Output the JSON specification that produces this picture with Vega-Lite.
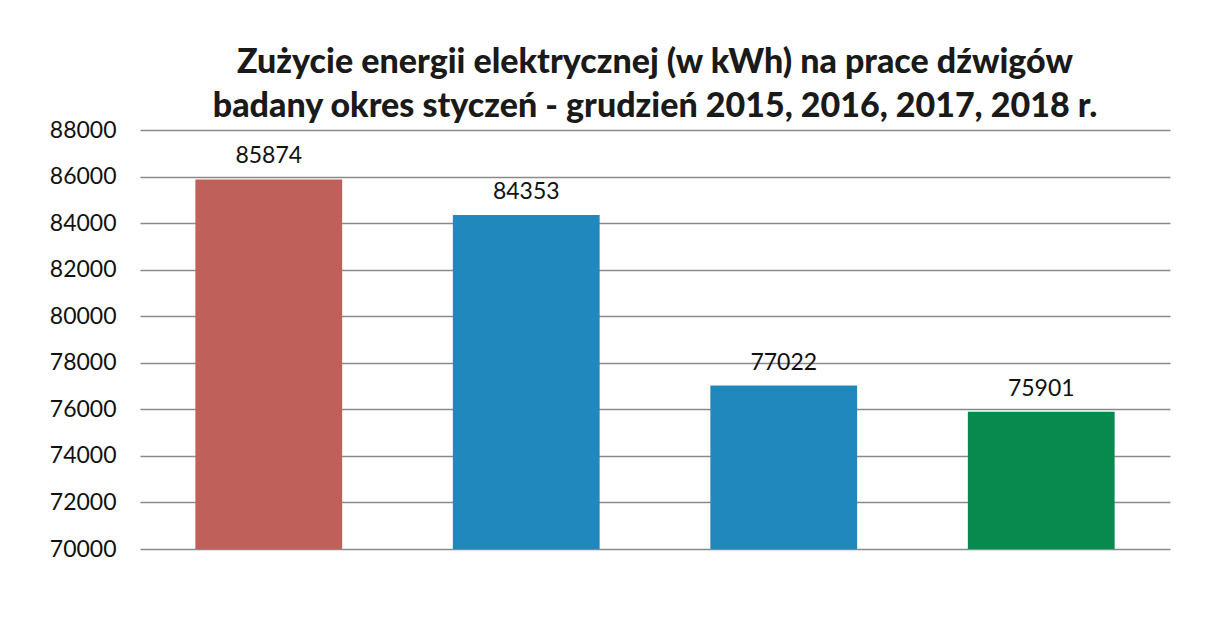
{
  "$schema": "https://vega.github.io/schema/vega-lite/v6.json",
  "width": 1030,
  "height": 419,
  "autosize": {"type": "none"},
  "padding": {"left": 140, "top": 130, "right": 43, "bottom": 73},
  "background": "white",
  "title": {
    "text": ["Zużycie energii elektrycznej (w kWh) na prace dźwigów", "badany okres styczeń - grudzień 2015, 2016, 2017, 2018 r."],
    "font": "Lato",
    "fontSize": 34,
    "fontWeight": 900,
    "color": "#1a1a1a",
    "lineHeight": 44,
    "offset": -5,
    "anchor": "middle"
  },
  "data": {
    "values": [
      {"rok": "2015", "kwh": 85874},
      {"rok": "2016", "kwh": 84353},
      {"rok": "2017", "kwh": 77022},
      {"rok": "2018", "kwh": 75901}
    ]
  },
  "encoding": {
    "x": {
      "field": "rok",
      "type": "nominal",
      "sort": null,
      "scale": {"paddingInner": 0.43, "paddingOuter": 0.215},
      "axis": null
    },
    "y": {
      "field": "kwh",
      "type": "quantitative",
      "scale": {"domain": [70000, 88000], "zero": false, "nice": false},
      "axis": {
        "values": [70000, 72000, 74000, 76000, 78000, 80000, 82000, 84000, 86000, 88000],
        "format": "d",
        "title": null,
        "domain": false,
        "ticks": false,
        "labelFont": "Lato",
        "labelFontSize": 23,
        "labelColor": "#111",
        "labelPadding": 24,
        "gridColor": "#8a8a8a",
        "gridWidth": 1.5
      }
    }
  },
  "layer": [
    {
      "mark": {"type": "bar", "clip": true},
      "encoding": {
        "color": {
          "field": "rok",
          "type": "nominal",
          "scale": {"domain": ["2015", "2016", "2017", "2018"], "range": ["#c0605a", "#2088bc", "#2088bc", "#088a4e"]},
          "legend": null
        }
      }
    },
    {
      "mark": {"type": "text", "dy": -23, "font": "Lato", "fontSize": 23, "color": "#111"},
      "encoding": {"text": {"field": "kwh", "type": "quantitative", "format": "d"}}
    }
  ],
  "config": {"view": {"stroke": null}}
}
